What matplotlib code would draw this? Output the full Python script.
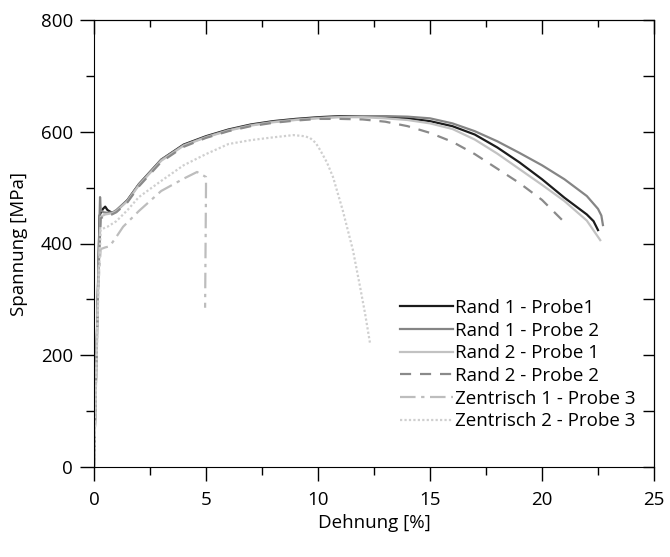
import numpy as np
import matplotlib.pyplot as plt
from matplotlib.ticker import MultipleLocator

plt.rcParams['font.family'] = ['Open Sans', 'DejaVu Sans']

# Rand 1 - Probe1
r1p1_x = [0, 0.1, 0.2, 0.25, 0.3, 0.4, 0.5, 0.6, 0.8, 1.0, 1.5, 2.0, 3.0, 4.0, 5.0, 6.0, 7.0,
          8.0, 9.0, 10.0, 11.0, 12.0, 13.0, 14.0, 15.0, 16.0, 17.0, 18.0, 19.0, 20.0, 21.0,
          22.0, 22.3, 22.5]
r1p1_y = [0, 180, 360, 450, 455, 462, 466, 460, 455, 458, 478, 506, 550, 577, 592, 604, 613,
          619, 623, 626, 628, 628, 627, 624, 619, 610, 595, 572, 545, 515, 482,
          452, 440, 424]

# Rand 1 - Probe 2
r1p2_x = [0, 0.1, 0.2, 0.27, 0.3, 0.4, 0.6, 0.85, 1.0, 1.5, 2.0, 3.0, 4.0, 5.0, 6.0, 7.0,
          8.0, 9.0, 10.0, 11.0, 12.0, 13.0, 14.0, 15.0, 16.0, 17.0, 18.0, 19.0, 20.0, 21.0,
          22.0, 22.5, 22.65, 22.72]
r1p2_y = [0, 180, 370, 483, 460, 456, 455, 456, 460, 478, 506, 550, 576, 591, 603, 612,
          618, 622, 625, 627, 628, 628, 627, 624, 615, 601, 583, 562, 540, 515,
          485, 462, 450, 433]

# Rand 2 - Probe 1
r2p1_x = [0, 0.1, 0.2, 0.3, 0.5, 0.8, 1.0, 1.5, 2.0, 3.0, 4.0, 5.0, 6.0, 7.0, 8.0, 9.0,
          10.0, 11.0, 12.0, 13.0, 14.0, 15.0, 16.0, 17.0, 18.0, 19.0, 20.0, 21.0, 22.0, 22.6]
r2p1_y = [0, 175, 350, 448, 452, 454, 458, 476, 504, 548, 575, 590, 602, 611, 617, 621,
          624, 626, 626, 624, 621, 615, 605, 586, 561, 533, 505, 476, 441, 406]

# Rand 2 - Probe 2
r2p2_x = [0, 0.1, 0.2, 0.3, 0.5, 0.8, 1.0, 1.5, 2.0, 3.0, 4.0, 5.0, 6.0, 7.0, 8.0, 9.0,
          10.0, 11.0, 12.0, 13.0, 14.0, 15.0, 16.0, 17.0, 18.0, 19.0, 20.0, 20.9]
r2p2_y = [0, 175, 350, 445, 450, 452, 456, 474, 502, 546, 573, 589, 601, 610, 616, 620,
          623, 623, 622, 618, 610, 598, 582, 560, 534, 508, 478, 442]

# Zentrisch 1 - Probe 3
z1_x = [0, 0.1, 0.2, 0.3, 0.5, 0.7, 1.0, 1.3, 2.0, 3.0, 4.0, 4.6, 5.0, 5.0, 4.96]
z1_y = [0, 170, 330, 390, 393, 395, 412, 430, 458, 494, 516, 528, 519, 501, 285]

# Zentrisch 2 - Probe 3
z2_x = [0, 0.1, 0.2, 0.3, 0.6, 1.0, 1.5, 2.0, 3.0, 4.0, 5.0, 6.0, 7.0, 8.0, 8.9, 9.4, 9.64,
        9.9, 10.1, 10.4, 10.67, 11.1, 11.56, 11.88, 12.1, 12.32]
z2_y = [0, 160, 320, 425, 430, 440, 460, 483, 512, 540, 560, 578, 585, 590, 594, 592, 589,
        580, 567, 545, 519, 460, 388, 322, 275, 222]

series = [
    (r1p1_x, r1p1_y, 'Rand 1 - Probe1', '#1c1c1c', '-'),
    (r1p2_x, r1p2_y, 'Rand 1 - Probe 2', '#858585', '-'),
    (r2p1_x, r2p1_y, 'Rand 2 - Probe 1', '#c2c2c2', '-'),
    (r2p2_x, r2p2_y, 'Rand 2 - Probe 2', '#8a8a8a', (0, (5, 4))),
    (z1_x, z1_y, 'Zentrisch 1 - Probe 3', '#bdbdbd', (0, (7, 2.5, 1.5, 2.5))),
    (z2_x, z2_y, 'Zentrisch 2 - Probe 3', '#cfcfcf', (0, (1, 1))),
]

fs = 13.5

fig = plt.figure(figsize=(6.7, 5.57), dpi=100)
ax = fig.add_axes([94 / 670, 90 / 557, 560 / 670, 447 / 557])

for x, y, label, color, ls in series:
    ax.plot(x, y, color=color, linestyle=ls, linewidth=1.6, label=label)

ax.set_xlim(0, 25)
ax.set_ylim(0, 800)
ax.xaxis.set_major_locator(MultipleLocator(5))
ax.xaxis.set_minor_locator(MultipleLocator(2.5))
ax.yaxis.set_major_locator(MultipleLocator(200))
ax.yaxis.set_minor_locator(MultipleLocator(100))
ax.tick_params(which='major', direction='out', length=10, width=1, labelsize=fs, pad=5)
ax.tick_params(axis='x', which='major', pad=7)
ax.tick_params(which='minor', direction='out', length=6, width=1)

# inward ticks on top and right
top = ax.secondary_xaxis('top')
top.xaxis.set_major_locator(MultipleLocator(5))
top.xaxis.set_minor_locator(MultipleLocator(2.5))
top.tick_params(which='major', direction='in', length=10, width=1, labeltop=False)
top.tick_params(which='minor', direction='in', length=5, width=1)
right = ax.secondary_yaxis('right')
right.yaxis.set_major_locator(MultipleLocator(200))
right.yaxis.set_minor_locator(MultipleLocator(100))
right.tick_params(which='major', direction='in', length=8, width=1, labelright=False)
right.tick_params(which='minor', direction='in', length=8, width=1)

ax.set_xlabel('Dehnung [%]', fontsize=fs, labelpad=4)
ax.set_ylabel('Spannung [MPa]', fontsize=fs, labelpad=9)

ax.legend(loc='lower right', bbox_to_anchor=(1.0, 0.04), frameon=False, fontsize=fs,
          handlelength=2.8, handletextpad=0.1, labelspacing=0.25, borderaxespad=0.6)

fig.savefig('out.png', dpi=100)
